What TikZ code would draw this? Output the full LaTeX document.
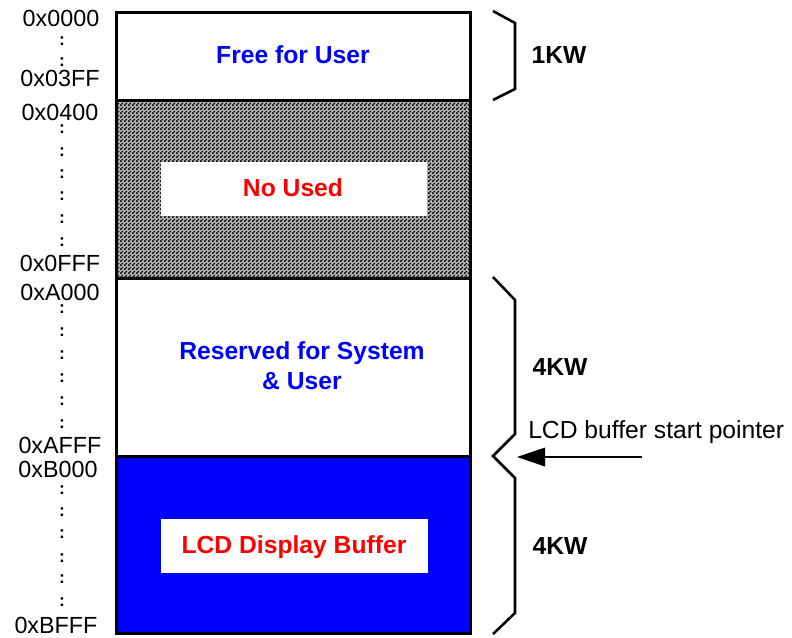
\documentclass[tikz,border=0pt]{standalone}
\usepackage{fontspec}
\setmainfont{Liberation Sans}
\usetikzlibrary{arrows.meta,patterns}
\pgfdeclarepatternformonly{mychecker}{\pgfqpoint{0pt}{0pt}}{\pgfqpoint{3pt}{3pt}}{\pgfqpoint{3pt}{3pt}}{%
  \pgfpathrectangle{\pgfqpoint{0pt}{0pt}}{\pgfqpoint{1.5pt}{1.5pt}}%
  \pgfpathrectangle{\pgfqpoint{1.5pt}{1.5pt}}{\pgfqpoint{1.5pt}{1.5pt}}%
  \pgfusepath{fill}}
\definecolor{pureblue}{RGB}{0,0,255}
\definecolor{purered}{RGB}{255,0,0}
\begin{document}
\begin{tikzpicture}[x=0.75pt,y=-0.75pt,
  addr/.style={font=\fontsize{17.5}{20}\selectfont, inner sep=0},
  colon/.style={font=\fontsize{13}{15}\selectfont\bfseries, inner sep=0},
  lbl/.style={font=\fontsize{18.5}{22}\selectfont\bfseries, inner sep=0},
  side/.style={font=\fontsize{18.5}{22}\selectfont, inner sep=0},
  frame/.style={line width=2.25pt},
  bracel/.style={line width=1.9pt, line join=miter},
  ptr/.style={line width=1pt, -{Triangle[length=21pt,width=14pt]}}]
\useasboundingbox (0,0) rectangle (792,637);
\fill[white] (0,0) rectangle (792,637);
% sections
\fill[black!30] (116,100) rectangle (470,278);
\fill[pattern=mychecker, pattern color=black] (116,100) rectangle (470,278);
\fill[pureblue] (116,456) rectangle (470,633);
\fill[white] (161,162) rectangle (427,216);
\fill[white] (161,519) rectangle (428,573);
\draw[frame] (116,12) rectangle (470,633);
\draw[frame] (116,100) -- (470,100);
\draw[frame] (116,278) -- (470,278);
\draw[frame] (116,456) -- (470,456);
% section labels
\node[lbl, text=pureblue] (free) at (293,55) {Free for User};
\node[lbl, text=purered] (noused) at (293,188) {No Used};
\node[lbl, text=pureblue, anchor=base] (res1) at (302,359) {Reserved for System};
\node[lbl, text=pureblue, anchor=base] (res2) at (302,389) {\& User};
\node[lbl, text=purered, anchor=base] (lcd) at (294,553) {LCD Display Buffer};
% addresses
\node[addr] (a1) at (61,18) {0x0000};
\node[addr] (a2) at (60,78) {0x03FF};
\node[addr] (a3) at (60,112) {0x0400};
\node[addr] (a4) at (60,263) {0x0FFF};
\node[addr] (a5) at (60,292) {0xA000};
\node[addr] (a6) at (60,445) {0xAFFF};
\node[addr] (a7) at (58,469) {0xB000};
\node[addr] (a8) at (56,625) {0xBFFF};
\foreach \y [count=\i] in {41.5,62.5,129.5,152,174.5,196,219,242,309.5,332.5,355.5,378,401,424,490.5,512.5,534.5,558,579,602}
  \node[colon] (c\i) at (62,\y) {:};
% braces
\coordinate (b1a) at (493,11);
\coordinate (b1b) at (515,23);
\coordinate (b1c) at (515,89);
\coordinate (b1d) at (493,100);
\draw[bracel] (b1a) -- (b1b) -- (b1c) -- (b1d);
\coordinate (b2a) at (493,277);
\coordinate (b2b) at (515,300);
\coordinate (b2c) at (515,434);
\coordinate (b2d) at (493,456);
\coordinate (b2e) at (515,478);
\coordinate (b2f) at (515,613);
\coordinate (b2g) at (493,634);
\draw[bracel] (b2a) -- (b2b) -- (b2c) -- (b2d) -- (b2e) -- (b2f) -- (b2g);
\node[lbl] (kw1) at (559,55) {1KW};
\node[lbl] (kw2) at (560,367) {4KW};
\node[lbl] (kw3) at (560,546) {4KW};
% pointer
\node[side, anchor=base west] (ptrlbl) at (528,438) {LCD buffer start pointer};
\coordinate (ptrstart) at (642,457);
\coordinate (ptrend) at (517,457);
\draw[ptr] (ptrstart) -- (ptrend);
\end{tikzpicture}
\end{document}
